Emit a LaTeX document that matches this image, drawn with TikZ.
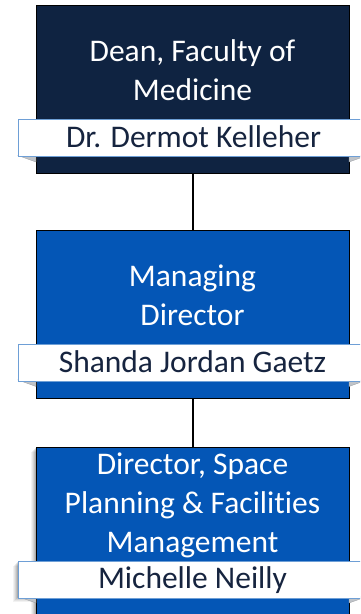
\documentclass[tikz,border=0pt]{standalone}
\usepackage{fontspec}
\setmainfont{Carlito}[Ligatures=NoCommon]
\usetikzlibrary{calc}
\definecolor{navybox}{HTML}{0F2341}
\definecolor{bluebox}{HTML}{0456B6}
\definecolor{bannerline}{HTML}{6E9FD6}
\definecolor{nametext}{HTML}{16243F}
\definecolor{foldgray}{HTML}{BFC3C8}
\tikzset{
  orgbox/.style={draw=black, line width=1.3pt, rectangle, anchor=north west, minimum width=313pt, inner sep=0pt},
  banner/.style={draw=bannerline, line width=1pt, fill=white, rectangle, anchor=north west, minimum width=349pt, minimum height=37pt, inner sep=0pt},
  titletext/.style={text=white, font=\fontsize{31.5}{39}\selectfont, align=center, anchor=base},
  nametxt/.style={text=nametext, font=\fontsize{31.5}{36}\selectfont, anchor=base},
  fold/.style={fill=foldgray, draw=foldgray!80!black, line width=0.3pt},
  conn/.style={draw=black, line width=1.4pt}
}
\begin{document}
\begin{tikzpicture}[x=1pt,y=-1pt]
\useasboundingbox (0,0) rectangle (360,614);
\clip (0,0) rectangle (360,614);
% box 1
\node[orgbox, fill=navybox, minimum height=168pt] (box1) at (36,5) {};
\node[titletext] (t1) at (192.5,100) {Dean, Faculty of\\Medicine};
\fill[fold] (18,155.5) -- (36,155.5) -- (36,162) -- cycle;
\fill[fold] (349,155.5) -- (367,155.5) -- (349,162) -- cycle;
\node[banner] (n1) at (18,118.5) {};
\node[nametxt] (nm1) at (193.5,147) {Dr. Dermot Kelleher};
% box 2
\node[orgbox, fill=bluebox, minimum height=168pt] (box2) at (36,230) {};
\node[titletext] (t2) at (192.5,325) {Managing\\Director};
\fill[fold] (18,380) -- (36,380) -- (36,386.5) -- cycle;
\fill[fold] (349,380) -- (367,380) -- (349,386.5) -- cycle;
\node[banner] (n2) at (18,344) {};
\node[nametxt] (nm2) at (192.5,372.5) {Shanda Jordan Gaetz};
% box 3 shadow
\foreach \d/\o in {5/0.05,4/0.06,3/0.07,2/0.09,1/0.12}{
  \fill[black, opacity=\o] (36-\d,447+\d) rectangle (349-\d,640);
  \fill[black, opacity=\o] (18-\d,561+\d) rectangle (349,597+\d);
}
\node[orgbox, fill=bluebox, minimum height=200pt] (box3) at (36,447) {};
\node[titletext] (t3) at (192.5,552) {Director, Space\\Planning \& Facilities\\Management};
\fill[fold] (18,596.5) -- (36,596.5) -- (36,603) -- cycle;
\fill[fold] (349,596.5) -- (367,596.5) -- (349,603) -- cycle;
\node[banner] (n3) at (18,561) {};
\node[nametxt] (nm3) at (192.5,588) {Michelle Neilly};
% connectors
\draw[conn] (box1.south) -- (box2.north);
\draw[conn] (box2.south) -- (box3.north);
\end{tikzpicture}
\end{document}
